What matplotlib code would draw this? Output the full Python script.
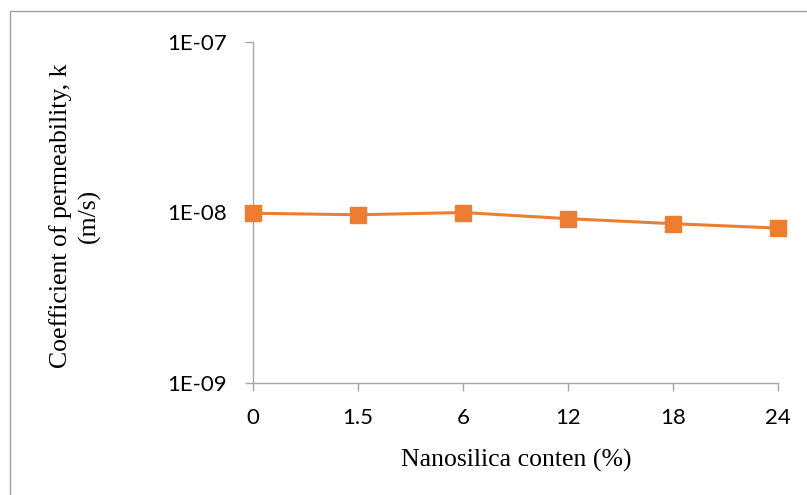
import matplotlib
matplotlib.use("Agg")
import matplotlib.pyplot as plt
from matplotlib.patches import Rectangle
from matplotlib.ticker import FixedLocator, FuncFormatter, NullLocator

categories = ["0", "1.5", "6", "12", "18", "24"]
k_values = [9.9e-9, 9.7e-9, 1.0e-8, 9.2e-9, 8.6e-9, 8.1e-9]
y_ticks = [1e-9, 1e-8, 1e-7]
y_tick_labels = ["1E-09", "1E-08", "1E-07"]

W, H = 807, 495
fig = plt.figure(figsize=(W / 100, H / 100), dpi=100)
ax = fig.add_axes([253 / W, 1 - 383 / H, (778 - 253) / W, (383 - 42) / H])

x = list(range(len(categories)))
ax.plot(x, k_values, color="#ED7D31", linewidth=2.2, marker="s", markersize=11,
        markeredgecolor="#ED7D31", markerfacecolor="#ED7D31", clip_on=False, zorder=3)

ax.set_yscale("log")
ax.set_ylim(1e-9, 1e-7)
ax.set_xlim(0, len(categories) - 1)
ax.yaxis.set_major_locator(FixedLocator(y_ticks))
ax.yaxis.set_minor_locator(NullLocator())
ax.yaxis.set_major_formatter(FuncFormatter(lambda v, p: y_tick_labels[y_ticks.index(min(y_ticks, key=lambda t: abs(t - v)))]))
ax.set_xticks(x)
ax.set_xticklabels(categories)

spine_c = "#A6A6A6"
for s in ["top", "right"]:
    ax.spines[s].set_visible(False)
for s in ["left", "bottom"]:
    ax.spines[s].set_color(spine_c)
    ax.spines[s].set_linewidth(1.0)
ax.tick_params(axis="both", which="major", color=spine_c, length=6, width=1.0,
               direction="out", labelsize=16, labelcolor="black")
ax.tick_params(axis="x", pad=12)
ax.tick_params(axis="y", pad=13)
for lab in ax.get_xticklabels() + ax.get_yticklabels():
    lab.set_family(["Lato", "DejaVu Sans"])

fig.text(516 / W, 1 - 467 / H, "Nanosilica conten (%)", ha="center", va="baseline",
         family="Liberation Serif", fontsize=18.5)
fig.text(75 / W, 1 - 216 / H, "Coefficient of permeability, k\n(m/s)", rotation=90,
         ha="center", va="center", family="Liberation Serif", fontsize=18.5,
         multialignment="center", linespacing=1.3)

fig.patches.append(Rectangle((10 / W, -0.1), 1.2, (H - 11) / H + 0.1,
                             transform=fig.transFigure, fill=False,
                             edgecolor="#A0A0A0", linewidth=1.0))

fig.savefig("out.png", dpi=100)
